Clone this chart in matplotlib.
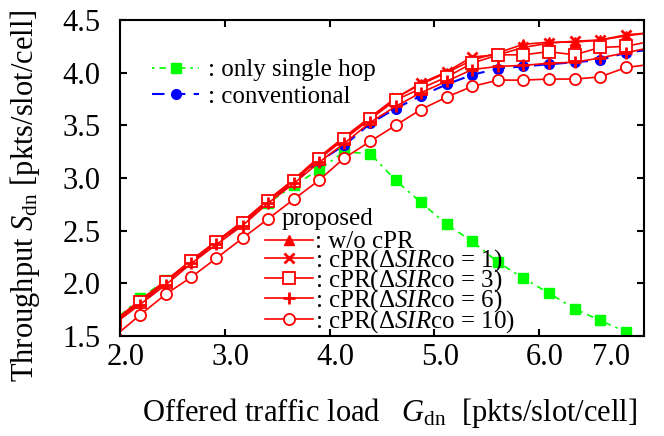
import matplotlib
matplotlib.use('Agg')
import matplotlib.pyplot as plt
import matplotlib.transforms as mtransforms

plt.rcParams['font.family'] = ['Liberation Serif', 'DejaVu Serif']
plt.rcParams['mathtext.fontset'] = 'custom'
plt.rcParams['mathtext.rm'] = 'Liberation Serif'
plt.rcParams['mathtext.it'] = 'Liberation Serif:italic'

# offered load (x) and throughput values
load = [1.95, 2.19, 2.44, 2.68, 2.92, 3.17, 3.41, 3.66, 3.90, 4.14, 4.39,
        4.63, 4.87, 5.12, 5.36, 5.61, 5.85, 6.09, 6.34, 6.58, 6.83, 7.07]
single_hop = [1.65, 1.86, 2.03, 2.21, 2.39, 2.57, 2.76, 2.93, 3.08, 3.25, 3.23,
              2.98, 2.77, 2.56, 2.40, 2.20, 2.05, 1.91, 1.76, 1.65, 1.54, 1.42]
conventional = [1.63, 1.81, 2.00, 2.20, 2.38, 2.56, 2.77, 2.96, 3.16, 3.31, 3.52,
                3.66, 3.78, 3.89, 3.98, 4.04, 4.06, 4.08, 4.10, 4.12, 4.19, 4.22]
wo_cpr = [1.65, 1.84, 2.03, 2.22, 2.40, 2.59, 2.79, 2.99, 3.20, 3.39, 3.58,
          3.76, 3.89, 4.00, 4.12, 4.19, 4.27, 4.29, 4.29, 4.31, 4.35, 4.38]
cpr1 = [1.65, 1.83, 2.02, 2.22, 2.40, 2.58, 2.79, 2.98, 3.19, 3.38, 3.57,
        3.76, 3.90, 4.01, 4.15, 4.17, 4.24, 4.28, 4.30, 4.31, 4.36, 4.38]
cpr3 = [1.63, 1.82, 2.01, 2.21, 2.39, 2.57, 2.78, 2.97, 3.18, 3.37, 3.56,
        3.74, 3.85, 3.96, 4.09, 4.17, 4.17, 4.20, 4.17, 4.24, 4.25, 4.30]
cpr6 = [1.62, 1.80, 1.99, 2.19, 2.37, 2.55, 2.76, 2.95, 3.15, 3.33, 3.53,
        3.68, 3.81, 3.92, 4.03, 4.06, 4.07, 4.09, 4.10, 4.14, 4.19, 4.24]
cpr10 = [1.50, 1.70, 1.90, 2.06, 2.24, 2.43, 2.61, 2.80, 2.98, 3.19, 3.35,
         3.50, 3.65, 3.77, 3.87, 3.93, 3.93, 3.94, 3.94, 3.96, 4.05, 4.08]

xticks = [2.0, 3.0, 4.0, 5.0, 6.0, 7.0]
yticks = [1.5, 2.0, 2.5, 3.0, 3.5, 4.0, 4.5]

fig = plt.figure(figsize=(6.64, 4.36), dpi=100)
ax = fig.add_axes([0.1807, 0.229, 0.789, 0.725])

red = '#ff0000'
l_g, = ax.plot(load, single_hop, color='#00ff00', ls=(0, (1.5, 3, 4, 3)), lw=1.2,
               marker='s', ms=7, mec='#00ff00', mfc='#00ff00')
l_b, = ax.plot(load, conventional, color='#0000ff', ls=(0, (6, 4)), lw=1.5,
               marker='o', ms=7, mec='#0000ff', mfc='#0000ff')
l_1, = ax.plot(load, wo_cpr, color=red, lw=1.2, marker='^', ms=7, mfc=red, mec=red)
l_2, = ax.plot(load, cpr1, color=red, lw=1.2, marker='x', ms=7, mew=2, mec=red)
l_3, = ax.plot(load, cpr3, color=red, lw=1.2, marker='s', ms=8, mfc='white', mec=red, mew=1.3)
l_4, = ax.plot(load, cpr6, color=red, lw=1.2, marker='+', ms=9, mew=2, mec=red)
l_5, = ax.plot(load, cpr10, color=red, lw=1.2, marker='o', ms=8, mfc='white', mec=red, mew=1.3)

ax.set_xlim(2.0, 7.0)
ax.set_ylim(1.5, 4.5)
ax.set_xticks(xticks)
ax.set_yticks(yticks)
ax.set_xticklabels(['%.1f' % v for v in xticks])
ax.set_yticklabels(['%.1f' % v for v in yticks])
ax.tick_params(direction='in', length=5, width=1.5, labelsize=22,
               top=True, right=True)
ax.tick_params(axis='x', pad=5)
ax.tick_params(axis='y', pad=14)
# shift x tick labels a little right like the original, last one pulled inside
for i, lab in enumerate(ax.get_xticklabels()):
    dx = 0.06 if i < len(xticks) - 1 else -0.33
    lab.set_transform(lab.get_transform() +
                      mtransforms.ScaledTranslation(dx, 0, fig.dpi_scale_trans))
for s in ax.spines.values():
    s.set_linewidth(1.5)

ax.set_xlabel(r'Offered traffic load   $G_{\rm dn}$  [pkts/slot/cell]', fontsize=22)
ax.set_ylabel(r'Throughput $S_{\rm dn}$ [pkts/slot/cell]', fontsize=22)
ax.xaxis.set_label_coords(0.515, -0.19)
ax.yaxis.set_label_coords(-0.149, 0.443)

leg1 = ax.legend([l_g, l_b], [': only single hop', ': conventional'],
                 loc='upper left', bbox_to_anchor=(0.061, 0.877), frameon=False,
                 fontsize=18, borderpad=0, borderaxespad=0, handlelength=1.9,
                 handletextpad=0.35, labelspacing=0.15)
ax.add_artist(leg1)

ax.text(0.309, 0.351, 'proposed', transform=ax.transAxes, fontsize=18,
        va='baseline', ha='left')
ax.legend([l_1, l_2, l_3, l_4, l_5],
          [': w/o cPR',
           r': cPR($\Delta$$\it{SIR}$co = 1)',
           r': cPR($\Delta$$\it{SIR}$co = 3)',
           r': cPR($\Delta$$\it{SIR}$co = 6)',
           r': cPR($\Delta$$\it{SIR}$co = 10)'],
          loc='upper left', bbox_to_anchor=(0.277, 0.333), frameon=False,
          fontsize=18, borderpad=0, borderaxespad=0, handlelength=1.9,
          handletextpad=0.1, labelspacing=-0.26)

fig.savefig('out.png', dpi=100)
